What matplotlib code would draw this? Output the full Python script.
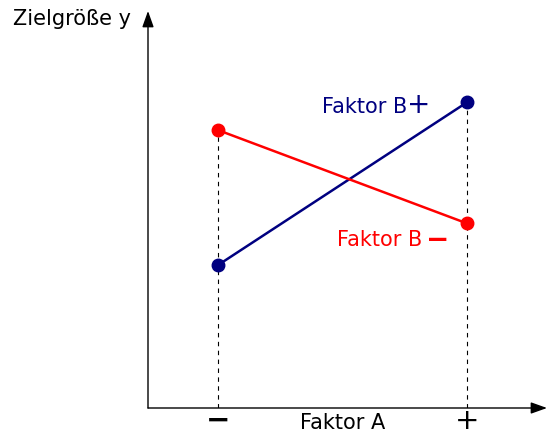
import matplotlib
matplotlib.use("Agg")
import matplotlib.pyplot as plt

# levels of factor A (- / +)
levels_a = [1, 2]
level_labels = ["−", "+"]

# response values for factor B at its two levels
y_b_plus = [3.6, 7.7]
y_b_minus = [7.0, 4.65]

blue = "#000080"
red = "#ff0000"

fig = plt.figure(figsize=(5.47, 4.35), dpi=100)
ax = fig.add_axes([148 / 547, 26 / 435, 399 / 547, 397 / 435])
ax.set_xlim(1 - 70 / 249, 2 + 80 / 249)
ax.set_ylim(0, 10)
ax.axis("off")

# axes with arrows
arrow = dict(arrowstyle="-|>,head_length=0.7,head_width=0.25", color="black",
             lw=1.0, mutation_scale=14, shrinkA=0, shrinkB=0)
ax.annotate("", xy=(1, 0), xytext=(0, 0), xycoords="axes fraction",
            arrowprops=arrow)
ax.annotate("", xy=(0, 1), xytext=(0, 0), xycoords="axes fraction",
            arrowprops=arrow)

# dashed guide lines
for x, yb, yr in zip(levels_a, y_b_plus, y_b_minus):
    ax.plot([x, x], [0, max(yb, yr)], color="black", lw=0.8,
            ls=(0, (4, 4)), zorder=1)

ax.plot(levels_a, y_b_plus, color=blue, lw=1.8, marker="o", ms=9, zorder=3)
ax.plot(levels_a, y_b_minus, color=red, lw=1.8, marker="o", ms=9, zorder=3)

# level signs below x axis
ax.text(levels_a[0], -0.3, level_labels[0], ha="center", va="center",
        fontsize=21, fontweight="bold", clip_on=False)
ax.text(levels_a[1], -0.31, level_labels[1], ha="center", va="center",
        fontsize=21, clip_on=False)

ax.text(1.5, -0.35, "Faktor A", ha="center", va="center", fontsize=15,
        clip_on=False)

ax.text(1.759, 7.61, "Faktor B", color=blue, ha="right", va="center", fontsize=15)
ax.text(1.807, 7.66, "+", color=blue, ha="center", va="center", fontsize=20)

ax.text(1.819, 4.26, "Faktor B", color=red, ha="right", va="center", fontsize=15)
ax.text(1.884, 4.26, "−", color=red, ha="center", va="center", fontsize=20,
        fontweight="bold")

fig.text(13 / 547, 1 - 19 / 435, "Zielgröße y", ha="left", va="center",
         fontsize=15)

fig.savefig("out.png", dpi=100)
